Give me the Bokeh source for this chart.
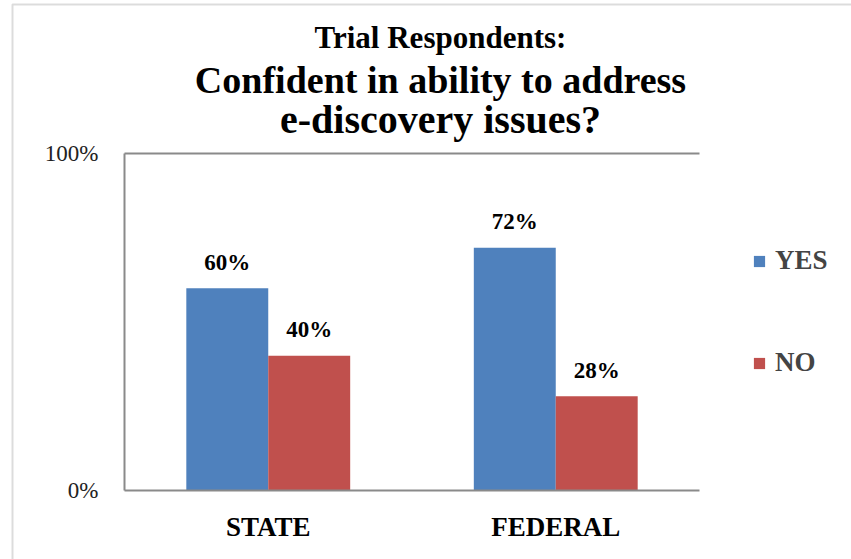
from bokeh.plotting import figure
from bokeh.models import (ColumnDataSource, Range1d, Label, Legend, LegendItem,
                          BoxAnnotation, FixedTicker, LinearAxis)
from bokeh.transform import dodge
from bokeh.core.properties import value
from bokeh.embed import file_html
from bokeh.resources import INLINE

# ---- data ----
categories = ["STATE", "FEDERAL"]
yes_values = [60, 72]
no_values = [40, 28]
series_names = ["YES", "NO"]
y_ticks = [0, 100]
y_tick_labels = ["0%", "100%"]
title_lines = ["Trial Respondents:", "Confident in ability to address", "e-discovery issues?"]

# ---- style / layout ----
FONT = "'Liberation Serif', serif"
COLORS = ["#4F81BD", "#C0504D"]
GRAY = "#8a8a8a"
BAR_W = 0.285
W, H = 851, 559
# plot area (pixels): left 124, right 699, top 153, bottom 490
PX_X = (699 - 124) / len(categories)
PX_Y = (490 - 153) / (y_ticks[-1] - y_ticks[0])
X0, X1 = -124 / PX_X, len(categories) + (W - 699) / PX_X
Y0, Y1 = -(H - 490) / PX_Y, y_ticks[-1] + 153 / PX_Y

cat_pos = [i + 0.5 for i in range(len(categories))]

src = ColumnDataSource(dict(
    x=cat_pos,
    yes=yes_values,
    no=no_values,
    yes_lbl=[f"{v}%" for v in yes_values],
    no_lbl=[f"{v}%" for v in no_values],
))

p = figure(x_range=Range1d(X0, X1), y_range=Range1d(Y0, Y1),
           width=W, height=H, output_backend="svg", toolbar_location=None,
           x_axis_location=None, y_axis_location=None,
           min_border=0, min_border_left=0, min_border_right=0,
           min_border_top=0, min_border_bottom=0)
p.grid.visible = False
p.outline_line_color = None
p.background_fill_color = "white"
p.border_fill_color = "white"

# chart-area border (only left and top edges fall inside the window)
p.add_layout(BoxAnnotation(left=12, right=3000, top=4, bottom=3000,
                           left_units="canvas", right_units="canvas",
                           top_units="canvas", bottom_units="canvas",
                           fill_alpha=0, fill_color=None,
                           line_color=GRAY, line_width=2, level="underlay"))

r_yes = p.vbar(x=dodge("x", -BAR_W / 2), top="yes", width=BAR_W,
               source=src, fill_color=COLORS[0], line_color=None)
r_no = p.vbar(x=dodge("x", BAR_W / 2), top="no", width=BAR_W,
              source=src, fill_color=COLORS[1], line_color=None)

for col, lbl, off in (("yes", "yes_lbl", -BAR_W / 2), ("no", "no_lbl", BAR_W / 2)):
    p.text(x=dodge("x", off), y=col, text=lbl, source=src,
           y_offset=-26, text_align="center", text_baseline="alphabetic",
           text_font=value(FONT), text_font_style="bold", text_font_size="23px",
           text_color="black")

def style_axis(ax):
    ax.major_tick_out = 0
    ax.major_tick_in = 0
    ax.minor_tick_out = 0
    ax.minor_tick_in = 0
    ax.axis_line_color = GRAY
    ax.axis_line_width = 2
    ax.major_label_text_font = FONT

xaxis = LinearAxis(fixed_location=y_ticks[0], bounds=(0, len(categories)),
                   ticker=FixedTicker(ticks=cat_pos),
                   major_label_overrides=dict(zip(cat_pos, categories)))
style_axis(xaxis)
xaxis.major_label_text_font_size = "27px"
xaxis.major_label_text_font_style = "bold"
xaxis.major_label_text_color = "black"
xaxis.major_label_standoff = 21
p.add_layout(xaxis, "below")

yaxis = LinearAxis(fixed_location=0, bounds=(y_ticks[0], y_ticks[-1]),
                   ticker=FixedTicker(ticks=y_ticks),
                   major_label_overrides=dict(zip(y_ticks, y_tick_labels)))
style_axis(yaxis)
yaxis.major_label_text_font_size = "23px"
yaxis.major_label_text_color = "#222222"
yaxis.major_label_standoff = 26
p.add_layout(yaxis, "left")

# top edge of the plot area
topaxis = LinearAxis(fixed_location=y_ticks[-1], bounds=(0, len(categories)),
                     ticker=FixedTicker(ticks=[]), major_label_text_font_size="0px")
style_axis(topaxis)
p.add_layout(topaxis, "above")

# title lines
title_y = [(490 - b) / PX_Y for b in (36.5, 79, 119)]
title_sizes = ["31px", "38px", "40px"]
title_x = (440 - 124) / PX_X
for txt, ty, fs in zip(title_lines, title_y, title_sizes):
    p.add_layout(Label(x=title_x, y=ty, text=txt, text_align="center",
                       text_baseline="alphabetic", text_font=FONT,
                       text_font_style="bold", text_font_size=fs, text_color="black"))

legend = Legend(items=[LegendItem(label=series_names[0], renderers=[r_yes]),
                       LegendItem(label=series_names[1], renderers=[r_no])],
                location=(752, 181), orientation="vertical",
                glyph_width=14, glyph_height=14, label_standoff=9, spacing=71,
                padding=0, margin=0, border_line_color=None, background_fill_alpha=0,
                label_text_font=FONT, label_text_font_size="27px",
                label_text_font_style="bold", label_text_baseline="middle")
p.add_layout(legend)

open("out.html", "w").write(file_html(p, INLINE))
